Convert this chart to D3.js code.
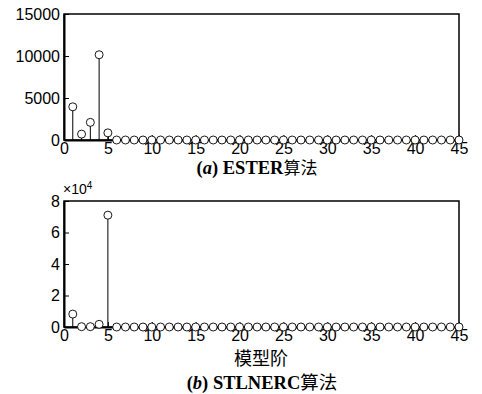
<!DOCTYPE html>
<html lang="en">
<head>
  <meta charset="UTF-8">
  <title>index</title>
  <style type="text/css">
    body { margin: 0; background: #fff; }
    svg text { font-family: Arial, "Liberation Sans", sans-serif; fill: #000; }
    .cap { font-family: "Liberation Serif", "Times New Roman", "Noto Sans CJK SC", serif; font-weight: bold; }
    .cjk { font-family: "Noto Sans CJK SC", serif; }
  </style>
</head>
<body>
  <svg id="chart" width="482" height="394"></svg>

<script src="https://d3js.org/d3.v7.min.js"></script>
<script>
  // model order 1..45
  const orders = d3.range(1, 46)
  // (a) ESTER
  const esterVals = [3950, 700, 2100, 10150, 850].concat(d3.range(40).map(() => 0))
  // (b) STLNERC, in units of 1e4
  const stlVals = [0.82, 0.02, 0.02, 0.17, 7.1].concat(d3.range(40).map(() => 0))
  const xTicks = d3.range(0, 50, 5)
  const yTicksA = [0, 5000, 10000, 15000]
  const yTicksB = [0, 2, 4, 6, 8]

  const svg = d3.select("#chart")
  const left = 64, right = 459

  function drawPanel (top, bottom, vals, yMax, yTicks) {
    const x = d3.scaleLinear().domain([0, 45]).range([left, right])
    const y = d3.scaleLinear().domain([0, yMax]).range([bottom, top])
    const g = svg.append("g")

    // box
    g.append("rect").attr("x", left).attr("y", top)
      .attr("width", right - left).attr("height", bottom - top)
      .attr("fill", "none").attr("stroke", "#000").attr("stroke-width", 1.5)

    // axes with inward ticks
    const xa = g.append("g").attr("transform", "translate(0," + bottom + ")")
      .call(d3.axisBottom(x).tickValues(xTicks).tickFormat(d3.format("d"))
        .tickSizeInner(-5).tickSizeOuter(0).tickPadding(2))
    const ya = g.append("g").attr("transform", "translate(" + left + ",0)")
      .call(d3.axisLeft(y).tickValues(yTicks).tickFormat(d3.format("d"))
        .tickSizeInner(-5).tickSizeOuter(0).tickPadding(4))
    ;[xa, ya].forEach(a => {
      a.select(".domain").attr("stroke-width", 2)
      a.selectAll("text").style("font-size", "16px").style("font-family", "Arial, 'Liberation Sans', sans-serif")
    })
    xa.selectAll("text").attr("dy", "0.75em")

    // stems
    g.selectAll(".stem").data(orders).enter().append("line")
      .attr("x1", d => x(d)).attr("x2", d => x(d))
      .attr("y1", y(0)).attr("y2", (d, i) => y(vals[i]))
      .attr("stroke", "#000").attr("stroke-width", 1)
    g.selectAll(".mk").data(orders).enter().append("circle")
      .attr("cx", d => x(d)).attr("cy", (d, i) => y(vals[i]))
      .attr("r", 4).attr("fill", "#fff").attr("stroke", "#000").attr("stroke-width", 0.9)
  }

  drawPanel(14, 140, esterVals, 15000, yTicksA)
  drawPanel(201, 327, stlVals, 8, yTicksB)

  // exponent label
  const ex = svg.append("text").attr("x", 63).attr("y", 194).style("font-size", "14px")
  ex.append("tspan").text("×10")
  ex.append("tspan").attr("dy", -5).style("font-size", "10px").text("4")

  // captions
  const capA = svg.append("text").attr("class", "cap").attr("x", 257).attr("y", 174)
    .attr("text-anchor", "middle").style("font-size", "18.5px")
  capA.append("tspan").text("(")
  capA.append("tspan").style("font-style", "italic").text("a")
  capA.append("tspan").text(") ESTER")
  capA.append("tspan").attr("class", "cjk").style("font-weight", "normal").style("font-size", "17px").text("算法")

  svg.append("text").attr("class", "cjk").attr("x", 261).attr("y", 365)
    .attr("text-anchor", "middle").style("font-size", "18px").text("模型阶")

  const capB = svg.append("text").attr("class", "cap").attr("x", 262).attr("y", 389)
    .attr("text-anchor", "middle").style("font-size", "18.5px")
  capB.append("tspan").text("(")
  capB.append("tspan").style("font-style", "italic").text("b")
  capB.append("tspan").text(") STLNERC")
  capB.append("tspan").attr("class", "cjk").style("font-weight", "normal").text("算法")
</script>
</body>
</html>
